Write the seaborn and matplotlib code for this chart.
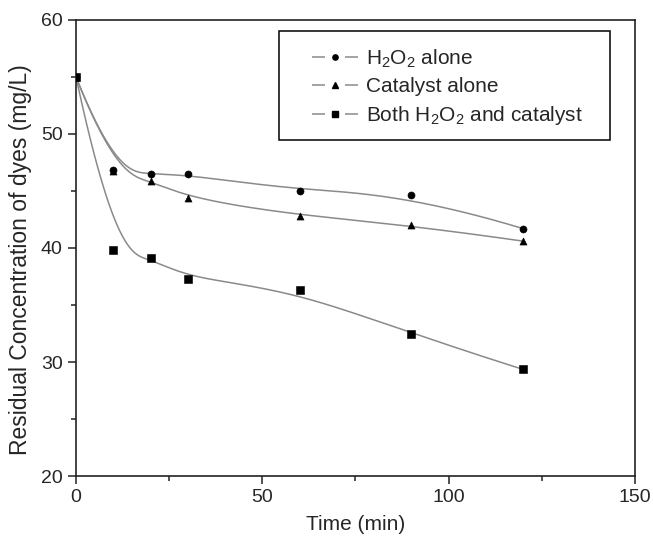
import numpy as np
import pandas as pd
import matplotlib
matplotlib.use('Agg')
import matplotlib.pyplot as plt
from matplotlib.lines import Line2D
from matplotlib.patches import Rectangle
from matplotlib.ticker import MultipleLocator
import seaborn as sns

# data
time = [0, 10, 20, 30, 60, 90, 120]
h2o2_alone = [55.0, 46.85, 46.45, 46.45, 45.0, 44.65, 41.7]
catalyst_alone = [55.0, 46.75, 45.9, 44.4, 42.8, 42.0, 40.6]
both = [55.0, 39.8, 39.15, 37.3, 36.3, 32.45, 29.35]

series_names = ['H$_2$O$_2$ alone', 'Catalyst alone', 'Both H$_2$O$_2$ and catalyst']
markers = ['o', '^', 's']


def bspline(px, py, n=400, k=3):
    # clamped cubic B-spline with the data points as control points
    px = np.asarray(px, float)
    py = np.asarray(py, float)
    m = len(px)
    t = np.concatenate([np.zeros(k), np.linspace(0, 1, m - k + 1), np.ones(k)])
    u = np.linspace(0, 1, n)
    u[-1] -= 1e-9
    N = np.zeros((n, len(t) - 1))
    for i in range(len(t) - 1):
        N[:, i] = (t[i] <= u) & (u < t[i + 1])
    for d in range(1, k + 1):
        Nn = np.zeros((n, len(t) - 1 - d))
        for i in range(len(t) - 1 - d):
            a = np.zeros(n)
            b = np.zeros(n)
            if t[i + d] > t[i]:
                a = (u - t[i]) / (t[i + d] - t[i]) * N[:, i]
            if t[i + d + 1] > t[i + 1]:
                b = (t[i + d + 1] - u) / (t[i + d + 1] - t[i + 1]) * N[:, i + 1]
            Nn[:, i] = a + b
        N = Nn
    return N @ px, N @ py


sns.set_style('ticks')
plt.rcParams['font.family'] = ['Liberation Sans', 'DejaVu Sans']
plt.rcParams['mathtext.default'] = 'regular'

fig = plt.figure(figsize=(6.53, 5.40), dpi=100)
ax = fig.add_axes([0.1164, 0.1185, 0.856, 0.8445])

handles = []
for name, vals, mk in zip(series_names, [h2o2_alone, catalyst_alone, both], markers):
    sx, sy = bspline(time, vals)
    curve = pd.DataFrame({'x': sx, 'y': sy})
    sns.lineplot(data=curve, x='x', y='y', sort=False, estimator=None,
                 color='#8a8a8a', lw=1.1, ax=ax)
    pts = pd.DataFrame({'x': time, 'y': vals})
    sns.scatterplot(data=pts, x='x', y='y', marker=mk, color='black',
                    edgecolor='black', s=26, ax=ax, zorder=3)
    # legend handle drawn as "— • —"
    handles.append(Line2D([], [], color='#8a8a8a', lw=1.1,
                          linestyle=(0, (8.5, 13.1, 8.5, 100)),
                          marker=mk, markersize=3.8, markerfacecolor='black',
                          markeredgecolor='black', label=name))

ax.set_xlim(0, 150)
ax.set_ylim(20, 60)
ax.xaxis.set_major_locator(MultipleLocator(50))
ax.xaxis.set_minor_locator(MultipleLocator(25))
ax.yaxis.set_major_locator(MultipleLocator(10))
ax.yaxis.set_minor_locator(MultipleLocator(5))
ax.tick_params(which='major', direction='out', length=6, width=1.1,
               labelsize=14, color='#222222', top=False, right=False)
ax.tick_params(which='minor', direction='out', length=3.5, width=1.1,
               color='#222222', top=False, right=False)
for sp in ax.spines.values():
    sp.set_linewidth(1.2)
    sp.set_color('#222222')

ax.set_xlabel('Time (min)', fontsize=15, labelpad=6)
ax.set_ylabel('Residual Concentration of dyes (mg/L)', fontsize=16.5)
ax.yaxis.set_label_coords(-0.079, 0.474)

# legend box
ax.add_patch(Rectangle((0.363, 0.737), 0.592, 0.239, transform=ax.transAxes,
                       fill=False, edgecolor='black', lw=1.1, zorder=4))
leg = ax.legend(handles=handles, loc='upper left', bbox_to_anchor=(0.4222, 0.94),
                fontsize=15, frameon=False, handlelength=2.2, handletextpad=0.4,
                borderpad=0, labelspacing=0.37, borderaxespad=0)

fig.savefig('out.png', dpi=100, facecolor='white')
